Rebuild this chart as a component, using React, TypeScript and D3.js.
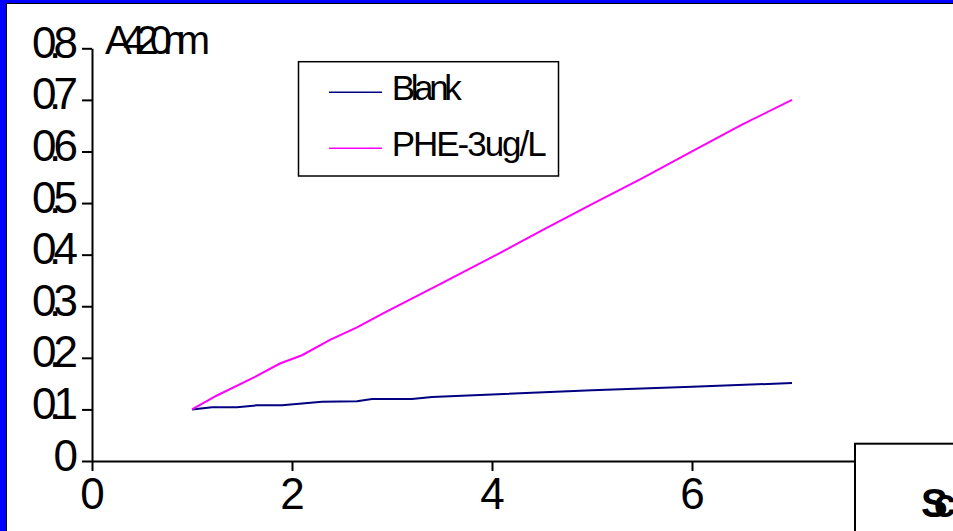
import React, { useEffect, useRef } from "react";
import * as d3 from "d3";

// time (min) vs absorbance
const blankX = [1.0, 1.2, 1.45, 1.65, 1.9, 2.3, 2.65, 2.8, 3.2, 3.4, 4.0, 5.0, 6.0, 7.0];
const blankY = [0.1, 0.104, 0.104, 0.108, 0.108, 0.115, 0.116, 0.12, 0.12, 0.124, 0.129, 0.137, 0.144, 0.151];
const pheX = [1.0, 1.25, 1.6, 1.88, 2.1, 2.38, 2.65, 2.93, 3.5, 4.0, 4.5, 5.0, 5.5, 6.0, 6.5, 7.0];
const pheY = [0.1, 0.127, 0.16, 0.189, 0.205, 0.235, 0.259, 0.288, 0.345, 0.395, 0.447, 0.498, 0.548, 0.6, 0.652, 0.7];

const seriesNames = ["Blank", "PHE-3ug/L"];
const seriesColors = ["#000080", "#FF00FF"];
const yTicks = [0, 0.1, 0.2, 0.3, 0.4, 0.5, 0.6, 0.7, 0.8];
const xTicks = [0, 2, 4, 6, 8];

const W = 953;
const H = 531;
const FONT = "'Liberation Sans', Arial, sans-serif";

export default function App() {
  const svgRef = useRef<SVGSVGElement>(null);

  useEffect(() => {
    const svg = d3.select(svgRef.current);
    svg.selectAll("*").remove();

    const x = d3.scaleLinear().domain([0, 8]).range([92, 892]);
    const y = d3.scaleLinear().domain([0, 0.8]).range([461, 48.3]);

    // frame
    svg.append("rect").attr("width", W).attr("height", H).attr("fill", "#0000FF");
    svg.append("rect")
      .attr("x", 6.5).attr("y", 3.5)
      .attr("width", W).attr("height", H)
      .attr("fill", "white").attr("stroke", "black").attr("stroke-width", 1);

    // y axis
    const gy = svg.append("g").attr("transform", `translate(${x(0)},0)`)
      .call(d3.axisLeft(y).tickValues(yTicks).tickSize(10).tickSizeOuter(0)
        .tickFormat((d: any) => (d === 0 ? "0" : d3.format(".1f")(d))));
    gy.select(".domain").attr("stroke-width", 2);
    gy.selectAll(".tick line").attr("stroke-width", 2);
    gy.selectAll<SVGTextElement, number>(".tick text")
      .attr("font-family", FONT).attr("font-size", 44).attr("fill", "black")
      .attr("dy", 0).attr("y", 9)
      .each(function (d) {
        const t = d3.select(this);
        if (d !== 0) {
          t.attr("text-anchor", "start").attr("x", -60)
            .attr("textLength", 46).attr("lengthAdjust", "spacing");
        } else {
          t.attr("x", -14);
        }
      });

    // x axis
    const gx = svg.append("g").attr("transform", `translate(0,${y(0)})`)
      .call(d3.axisBottom(x).tickValues(xTicks).tickSize(10).tickSizeOuter(0).tickFormat(d3.format("d")));
    gx.select(".domain").attr("stroke-width", 2);
    gx.selectAll(".tick line").attr("stroke-width", 2);
    gx.selectAll(".tick text")
      .attr("font-family", FONT).attr("font-size", 44).attr("fill", "black")
      .attr("dy", 0).attr("y", 48);

    // axis title
    svg.append("text")
      .attr("x", 105).attr("y", 54)
      .attr("font-family", FONT).attr("font-size", 40)
      .attr("textLength", 105).attr("lengthAdjust", "spacing")
      .text("A420nm");

    // lines
    const line = d3.line<[number, number]>().x(d => x(d[0])).y(d => y(d[1]));
    const series: [number, number][][] = [
      blankX.map((v, i) => [v, blankY[i]]),
      pheX.map((v, i) => [v, pheY[i]]),
    ];
    series.forEach((pts, i) => {
      svg.append("path").datum(pts)
        .attr("d", line)
        .attr("fill", "none")
        .attr("stroke", seriesColors[i])
        .attr("stroke-width", 2);
    });

    // legend
    const lg = svg.append("g");
    lg.append("rect")
      .attr("x", 298.5).attr("y", 61.7).attr("width", 260).attr("height", 114.3)
      .attr("fill", "white").attr("stroke", "black").attr("stroke-width", 1.5);
    const legendLen = [70, 155];
    seriesNames.forEach((name, i) => {
      const ly = 92.3 + i * 56;
      lg.append("line")
        .attr("x1", 329).attr("x2", 382).attr("y1", ly).attr("y2", ly)
        .attr("stroke", seriesColors[i]).attr("stroke-width", 1.5);
      lg.append("text")
        .attr("x", 391.7).attr("y", ly + 7.8)
        .attr("font-family", FONT).attr("font-size", 35)
        .attr("textLength", legendLen[i]).attr("lengthAdjust", "spacing")
        .text(name);
    });

    // box in lower right corner
    svg.append("rect")
      .attr("x", 855).attr("y", 443.7).attr("width", 200).attr("height", 200)
      .attr("fill", "white").attr("stroke", "black").attr("stroke-width", 2);
    svg.append("text")
      .attr("x", 921).attr("y", 517)
      .attr("font-family", FONT).attr("font-size", 40).attr("font-weight", "bold")
      .attr("letter-spacing", -14)
      .text("Sc");
  }, []);

  return (
    <div style={{ position: "fixed", left: 0, top: 0 }}>
      <svg ref={svgRef} width={W} height={H} style={{ display: "block" }}></svg>
    </div>
  );
}
